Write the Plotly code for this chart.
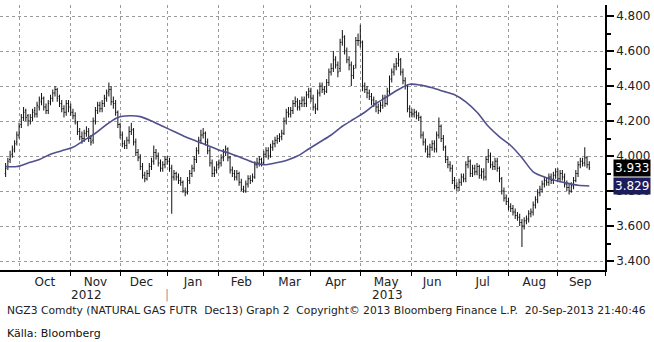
import pandas as pd
import plotly.graph_objects as go

# NGZ3 daily bars, 21-Sep-2012 .. 20-Sep-2013 (one row of values per month)
opens = [
    3.90, 3.94, 3.98, 4.01, 4.04, 4.08,
    4.12, 4.18, 4.22, 4.26, 4.23, 4.20, 4.22, 4.26, 4.24, 4.28, 4.31, 4.33, 4.28, 4.26, 4.31, 4.33, 4.36, 4.38, 4.34, 4.30, 4.27, 4.25, 4.30,
    4.28, 4.25, 4.23, 4.19, 4.14, 4.11, 4.10, 4.13, 4.14, 4.10, 4.09, 4.20, 4.26, 4.29, 4.27, 4.30, 4.33, 4.37, 4.38, 4.31, 4.30, 4.25,
    4.18, 4.12, 4.07, 4.06, 4.09, 4.14, 4.15, 4.08, 4.02, 3.99, 3.94, 3.89, 3.87, 3.90, 3.94, 3.97, 4.02, 4.00, 3.96, 3.93, 3.95,
    3.98, 3.97, 3.93, 3.88, 3.90, 3.88, 3.86, 3.85, 3.80, 3.79, 3.86, 3.90, 3.93, 3.98, 4.03, 4.09, 4.12, 4.13, 4.08, 4.03, 3.96, 3.90, 3.92,
    3.95, 3.96, 3.99, 4.02, 4.04, 3.99, 3.92, 3.90, 3.88, 3.90, 3.85, 3.81, 3.80, 3.84, 3.87, 3.86, 3.88, 3.95, 3.96, 3.98,
    3.96, 4.01, 4.03, 4.00, 4.05, 4.07, 4.09, 4.10, 4.11, 4.13, 4.20, 4.25, 4.24, 4.26, 4.30, 4.31, 4.28, 4.30, 4.32, 4.30, 4.35,
    4.37, 4.33, 4.28, 4.27, 4.36, 4.40, 4.38, 4.37, 4.42, 4.48, 4.50, 4.55, 4.52, 4.50, 4.65, 4.68, 4.60, 4.55, 4.52, 4.46, 4.52, 4.66,
    4.66, 4.65, 4.40, 4.38, 4.36, 4.34, 4.32, 4.30, 4.28, 4.26, 4.29, 4.33, 4.30, 4.37, 4.44, 4.48, 4.51, 4.53, 4.55, 4.48, 4.43, 4.40, 4.27,
    4.25, 4.24, 4.25, 4.23, 4.22, 4.12, 4.08, 4.04, 4.01, 4.05, 4.07, 4.04, 4.12, 4.17, 4.10, 4.05, 3.98, 3.95, 3.93, 3.86,
    3.83, 3.82, 3.85, 3.88, 3.87, 3.95, 3.97, 3.90, 3.93, 3.91, 3.94, 3.89, 3.91, 3.88, 3.98, 4.00, 3.95, 3.94, 3.97, 3.93, 3.87, 3.80, 3.76,
    3.74, 3.71, 3.70, 3.68, 3.66, 3.65, 3.62, 3.60, 3.63, 3.64, 3.67, 3.68, 3.72, 3.75, 3.79, 3.81, 3.84, 3.86, 3.85, 3.88, 3.86, 3.89,
    3.91, 3.87, 3.90, 3.88, 3.84, 3.82, 3.80, 3.83, 3.86, 3.90, 3.95, 3.97, 3.96, 3.99, 3.95,
]
highs = [
    3.96, 3.99, 4.03, 4.06, 4.09, 4.14,
    4.19, 4.24, 4.28, 4.27, 4.24, 4.24, 4.27, 4.28, 4.31, 4.34, 4.36, 4.34, 4.30, 4.32, 4.35, 4.38, 4.40, 4.39, 4.35, 4.32, 4.29, 4.32, 4.32,
    4.30, 4.27, 4.25, 4.20, 4.16, 4.14, 4.15, 4.17, 4.16, 4.12, 4.22, 4.28, 4.31, 4.31, 4.32, 4.35, 4.38, 4.42, 4.40, 4.34, 4.32, 4.26,
    4.19, 4.14, 4.09, 4.11, 4.17, 4.19, 4.16, 4.10, 4.04, 4.01, 3.96, 3.91, 3.92, 3.96, 3.99, 4.06, 4.04, 4.02, 3.98, 3.97, 4.00,
    4.00, 3.99, 3.95, 3.92, 3.91, 3.90, 3.88, 3.86, 3.82, 3.88, 3.92, 3.95, 4.00, 4.05, 4.11, 4.15, 4.16, 4.14, 4.10, 4.05, 3.98, 3.94, 3.97,
    3.98, 4.01, 4.04, 4.06, 4.05, 4.00, 3.94, 3.92, 3.92, 3.91, 3.87, 3.83, 3.86, 3.89, 3.89, 3.90, 3.97, 3.99, 4.00, 3.99,
    4.03, 4.05, 4.05, 4.07, 4.09, 4.11, 4.12, 4.13, 4.15, 4.22, 4.27, 4.28, 4.28, 4.32, 4.34, 4.33, 4.32, 4.34, 4.34, 4.37, 4.39,
    4.39, 4.35, 4.30, 4.38, 4.42, 4.42, 4.40, 4.44, 4.50, 4.53, 4.60, 4.57, 4.54, 4.67, 4.72, 4.69, 4.62, 4.57, 4.54, 4.52, 4.68, 4.70,
    4.75, 4.66, 4.42, 4.40, 4.38, 4.36, 4.34, 4.32, 4.30, 4.31, 4.35, 4.35, 4.39, 4.46, 4.50, 4.53, 4.56, 4.59, 4.56, 4.50, 4.45, 4.41, 4.29,
    4.27, 4.27, 4.26, 4.25, 4.23, 4.14, 4.10, 4.06, 4.07, 4.09, 4.09, 4.14, 4.22, 4.18, 4.12, 4.06, 4.00, 3.97, 3.95, 3.88,
    3.85, 3.87, 3.90, 3.90, 3.97, 4.00, 3.98, 3.95, 3.95, 3.96, 3.95, 3.93, 3.93, 4.00, 4.04, 4.02, 3.97, 3.99, 3.99, 3.94, 3.88, 3.82, 3.78,
    3.76, 3.73, 3.72, 3.70, 3.68, 3.67, 3.64, 3.65, 3.66, 3.69, 3.70, 3.74, 3.77, 3.81, 3.83, 3.86, 3.88, 3.88, 3.90, 3.90, 3.91, 3.93,
    3.93, 3.92, 3.92, 3.90, 3.86, 3.84, 3.85, 3.88, 3.92, 3.97, 3.99, 3.99, 4.05, 4.00, 3.97,
]
lows = [
    3.88, 3.92, 3.96, 3.99, 4.02, 4.06,
    4.10, 4.16, 4.20, 4.20, 4.17, 4.18, 4.20, 4.22, 4.22, 4.26, 4.29, 4.26, 4.24, 4.24, 4.29, 4.31, 4.34, 4.31, 4.28, 4.25, 4.22, 4.23, 4.25,
    4.23, 4.21, 4.18, 4.12, 4.09, 4.07, 4.08, 4.11, 4.08, 4.06, 4.07, 4.18, 4.24, 4.25, 4.25, 4.28, 4.31, 4.34, 4.29, 4.27, 4.23, 4.16,
    4.10, 4.05, 4.04, 4.04, 4.07, 4.12, 4.06, 4.00, 3.97, 3.92, 3.87, 3.85, 3.86, 3.88, 3.92, 3.95, 3.98, 3.94, 3.91, 3.91, 3.93,
    3.95, 3.91, 3.67, 3.86, 3.86, 3.84, 3.83, 3.79, 3.77, 3.78, 3.84, 3.88, 3.91, 3.96, 4.01, 4.07, 4.10, 4.06, 4.01, 3.94, 3.88, 3.88, 3.90,
    3.93, 3.94, 3.97, 4.00, 3.97, 3.90, 3.88, 3.86, 3.86, 3.83, 3.80, 3.79, 3.79, 3.82, 3.84, 3.85, 3.87, 3.93, 3.94, 3.94,
    3.95, 3.99, 3.98, 3.99, 4.03, 4.05, 4.07, 4.08, 4.09, 4.12, 4.18, 4.22, 4.22, 4.24, 4.28, 4.26, 4.26, 4.28, 4.28, 4.28, 4.33,
    4.31, 4.26, 4.24, 4.26, 4.34, 4.36, 4.35, 4.36, 4.40, 4.46, 4.48, 4.50, 4.45, 4.48, 4.63, 4.58, 4.53, 4.49, 4.40, 4.44, 4.50, 4.63,
    4.62, 4.37, 4.36, 4.33, 4.32, 4.29, 4.28, 4.25, 4.24, 4.25, 4.27, 4.28, 4.29, 4.35, 4.42, 4.46, 4.49, 4.51, 4.46, 4.41, 4.38, 4.25, 4.22,
    4.22, 4.22, 4.21, 4.20, 4.10, 4.06, 4.02, 3.99, 3.99, 4.03, 4.02, 4.02, 4.10, 4.08, 4.03, 3.96, 3.93, 3.91, 3.84, 3.81,
    3.80, 3.80, 3.83, 3.85, 3.85, 3.93, 3.88, 3.88, 3.89, 3.89, 3.87, 3.87, 3.86, 3.86, 3.96, 3.93, 3.92, 3.92, 3.91, 3.85, 3.78, 3.74, 3.72,
    3.69, 3.68, 3.66, 3.64, 3.63, 3.60, 3.48, 3.58, 3.61, 3.62, 3.65, 3.66, 3.70, 3.73, 3.77, 3.79, 3.82, 3.83, 3.83, 3.84, 3.84, 3.87,
    3.85, 3.85, 3.86, 3.82, 3.80, 3.78, 3.79, 3.81, 3.85, 3.88, 3.93, 3.94, 3.94, 3.93, 3.92,
]
closes = [
    3.93, 3.97, 4.00, 4.03, 4.07, 4.12,
    4.17, 4.22, 4.25, 4.22, 4.20, 4.22, 4.25, 4.24, 4.29, 4.32, 4.33, 4.28, 4.26, 4.30, 4.33, 4.36, 4.38, 4.33, 4.30, 4.27, 4.25, 4.30, 4.28,
    4.25, 4.23, 4.20, 4.14, 4.11, 4.10, 4.13, 4.14, 4.10, 4.08, 4.20, 4.26, 4.29, 4.27, 4.30, 4.33, 4.36, 4.38, 4.31, 4.30, 4.25, 4.18,
    4.12, 4.07, 4.06, 4.09, 4.14, 4.15, 4.08, 4.02, 3.99, 3.94, 3.89, 3.87, 3.90, 3.94, 3.97, 4.02, 4.00, 3.96, 3.93, 3.95, 3.98,
    3.97, 3.93, 3.88, 3.90, 3.88, 3.86, 3.85, 3.80, 3.79, 3.86, 3.90, 3.93, 3.98, 4.03, 4.09, 4.12, 4.13, 4.08, 4.03, 3.96, 3.90, 3.92, 3.95,
    3.96, 3.99, 4.02, 4.04, 3.99, 3.92, 3.90, 3.88, 3.90, 3.85, 3.81, 3.80, 3.84, 3.87, 3.86, 3.88, 3.95, 3.96, 3.98, 3.96,
    4.01, 4.03, 4.00, 4.05, 4.07, 4.09, 4.10, 4.11, 4.13, 4.20, 4.25, 4.24, 4.26, 4.30, 4.31, 4.28, 4.30, 4.32, 4.30, 4.35, 4.37,
    4.33, 4.28, 4.27, 4.36, 4.40, 4.38, 4.37, 4.42, 4.48, 4.50, 4.55, 4.52, 4.48, 4.65, 4.68, 4.60, 4.55, 4.52, 4.46, 4.50, 4.66, 4.66,
    4.65, 4.40, 4.38, 4.36, 4.34, 4.32, 4.30, 4.28, 4.26, 4.29, 4.33, 4.30, 4.37, 4.44, 4.48, 4.51, 4.53, 4.55, 4.48, 4.43, 4.40, 4.27, 4.25,
    4.24, 4.25, 4.23, 4.22, 4.12, 4.08, 4.04, 4.01, 4.05, 4.07, 4.04, 4.12, 4.17, 4.10, 4.05, 3.98, 3.95, 3.93, 3.86, 3.83,
    3.82, 3.85, 3.88, 3.87, 3.95, 3.97, 3.90, 3.93, 3.91, 3.94, 3.89, 3.91, 3.88, 3.98, 4.00, 3.95, 3.94, 3.97, 3.93, 3.87, 3.80, 3.76, 3.74,
    3.71, 3.70, 3.68, 3.66, 3.65, 3.62, 3.60, 3.63, 3.64, 3.67, 3.68, 3.72, 3.75, 3.79, 3.81, 3.84, 3.86, 3.85, 3.88, 3.86, 3.89, 3.91,
    3.87, 3.90, 3.88, 3.84, 3.82, 3.80, 3.83, 3.86, 3.90, 3.95, 3.97, 3.96, 3.99, 3.95, 3.933,
]

ma_values = [
    3.94, 3.94, 3.96, 3.98, 4.01, 4.03, 4.05, 4.09, 4.13, 4.18,
    4.22, 4.23, 4.225, 4.20, 4.17, 4.14, 4.11, 4.085, 4.06, 4.035,
    4.015, 3.99, 3.965, 3.95, 3.96, 3.975, 4.00, 4.04, 4.08, 4.12,
    4.17, 4.21, 4.25, 4.30, 4.34, 4.38, 4.41, 4.405, 4.39, 4.37,
    4.35, 4.31, 4.25, 4.17, 4.11, 4.06, 3.99, 3.91, 3.88, 3.86,
    3.845, 3.833, 3.829,
]

last_price = 3.933
last_ma = 3.829

dates = pd.bdate_range("2012-09-21", "2013-09-20")
assert len(dates) == len(closes) == len(opens) == len(highs) == len(lows)
ma_dates = dates[::5]
assert len(ma_dates) == len(ma_values)

TXT = "#222222"
FONT = "DejaVu Sans"
GRID = "#9a9a9a"

fig = go.Figure()
fig.add_trace(go.Ohlc(
    x=dates, open=opens, high=highs, low=lows, close=closes,
    increasing=dict(line=dict(color="#111111", width=1)),
    decreasing=dict(line=dict(color="#111111", width=1)),
    tickwidth=0.4, showlegend=False, hoverinfo="skip",
))
fig.add_trace(go.Scatter(
    x=ma_dates, y=ma_values, mode="lines",
    line=dict(color="#50508f", width=1.6, shape="spline", smoothing=0.8),
    showlegend=False, hoverinfo="skip",
))

fig.update_layout(
    width=654, height=342,
    margin=dict(l=0, r=49, t=5, b=72),
    paper_bgcolor="white", plot_bgcolor="white",
    font=dict(family=FONT, size=12, color=TXT),
    showlegend=False,
    xaxis=dict(
        type="date",
        range=["2012-09-18 12:00", "2013-10-01"],
        rangebreaks=[dict(bounds=["sat", "mon"])],
        rangeslider=dict(visible=False),
        tick0="2012-10-01", dtick="M1", tickformat="%b",
        ticklabelmode="period",
        ticklabelstandoff=-4,
        showgrid=True, gridcolor=GRID, griddash="dot", gridwidth=1,
        ticks="outside", ticklen=4, tickcolor="black",
        showline=True, linecolor="black", linewidth=1.5,
        zeroline=False,
        tickfont=dict(family=FONT, size=12, color=TXT),
    ),
    yaxis=dict(
        side="right",
        range=[3.3486, 4.863],
        tick0=3.4, dtick=0.2, tickformat=".3f",
        showgrid=True, gridcolor=GRID, griddash="dot", gridwidth=1,
        ticks="outside", ticklen=7, tickwidth=2, tickcolor="black",
        minor=dict(dtick=0.1, ticks="outside", ticklen=4, tickcolor="black", showgrid=False),
        showline=True, linecolor="black", linewidth=1.5,
        zeroline=False,
        tickfont=dict(family=FONT, size=12, color=TXT),
    ),
)

# year captions under the month labels
for yr_x, yr in [("2012-11-12", "2012"), ("2013-05-17", "2013")]:
    fig.add_annotation(x=yr_x, y=-0.096, xref="x", yref="paper", text=yr,
                       showarrow=False, yanchor="middle",
                       font=dict(family=FONT, size=12, color=TXT))
# year boundary marker
fig.add_annotation(x="2013-01-01", y=-0.094, xref="x", yref="paper", text="|",
                   showarrow=False, yanchor="middle",
                   font=dict(family=FONT, size=12, color="#999999"))

# last-value boxes on the price scale
for val, bg in [(last_price, "#000000"), (last_ma, "#1c1c5c")]:
    fig.add_annotation(x=1, y=val, xref="paper", yref="y", xanchor="left",
                       xshift=8, text=f"{val:.3f}", showarrow=False,
                       bgcolor=bg, borderpad=1,
                       font=dict(family=FONT, size=12, color="white"))

fig.add_annotation(
    x=0.008, y=-0.154, xref="paper", yref="paper", xanchor="left", yanchor="middle",
    text="NGZ3 Comdty (NATURAL GAS FUTR\u00a0\u00a0Dec13) Graph 2\u00a0\u00a0Copyright\u00a9 2013 Bloomberg Finance L.P.\u00a0\u00a020-Sep-2013 21:40:46",
    showarrow=False, font=dict(family=FONT, size=10.75, color=TXT),
)
fig.add_annotation(
    x=0.008, y=-0.24, xref="paper", yref="paper", xanchor="left", yanchor="middle",
    text="Källa: Bloomberg", showarrow=False,
    font=dict(family=FONT, size=11, color="#111111"),
)

fig.write_html("out.html")
